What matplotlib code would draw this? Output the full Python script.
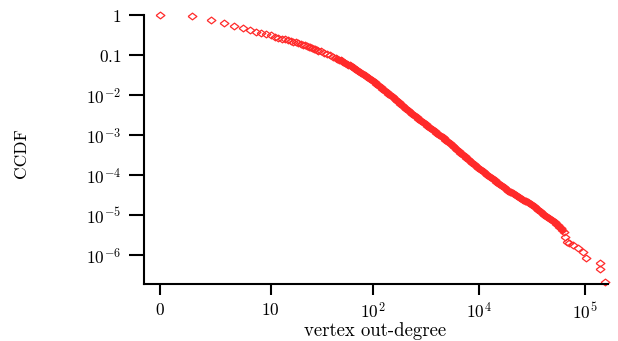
import numpy as np
import matplotlib
matplotlib.use("Agg")
import matplotlib.pyplot as plt
from matplotlib.ticker import FixedLocator, NullLocator

plt.rcParams['font.family'] = 'serif'
plt.rcParams['font.serif'] = ['cmr10', 'DejaVu Serif']
plt.rcParams['mathtext.fontset'] = 'cm'
plt.rcParams['axes.formatter.use_mathtext'] = True

# vertex out-degree and log10 of the CCDF
degree = [0, 1, 2, 3, 4, 5, 6, 7, 8, 9, 10, 11, 12, 13, 14, 15, 16, 17, 18, 19,
          20, 21, 22, 23, 24, 25, 26, 27, 28, 29, 30,
          32, 34, 36, 39, 41, 44, 47, 51, 54, 58, 62, 66, 70, 75, 80, 86, 91, 98,
          104, 111, 119, 127, 136, 145, 155, 165, 176, 188, 201, 214, 229, 244,
          261, 278, 297, 317, 338, 361, 385, 411, 439, 469, 500, 534, 570, 608,
          649, 692, 739, 789, 842, 898, 959, 1023, 1092, 1165, 1244, 1327, 1417,
          1511, 1613, 1721, 1837, 1961, 2093, 2233, 2383, 2543, 2714, 2896, 3091,
          3298, 3520, 3756, 4008, 4277, 4564, 4871, 5198, 5546, 5919, 6317,
          6456, 6697, 7117, 7727, 8611, 9474, 10109, 13781, 13930, 15360]
ccdf_exp = [0, -0.015, -0.118, -0.2, -0.268, -0.318, -0.362, -0.405, -0.443, -0.475,
            -0.503, -0.53, -0.555, -0.58, -0.603, -0.623, -0.64, -0.66, -0.678, -0.698,
            -0.715, -0.733, -0.75, -0.768, -0.785, -0.80, -0.818, -0.834, -0.85, -0.865,
            -0.88,
            -0.9025, -0.9325, -0.9675, -1.0025, -1.0375, -1.0725, -1.105, -1.145,
            -1.1875, -1.23, -1.27, -1.3125, -1.355, -1.4075, -1.46, -1.515, -1.5675,
            -1.62, -1.6775, -1.74, -1.8, -1.8625, -1.924, -1.9875, -2.05, -2.115,
            -2.1775, -2.24, -2.305, -2.3675, -2.4325, -2.4925, -2.5525, -2.61,
            -2.6675, -2.7275, -2.785, -2.845, -2.9025, -2.96, -3.02, -3.0775,
            -3.1375, -3.2025, -3.2675, -3.3325, -3.3975, -3.465, -3.5275, -3.59,
            -3.655, -3.7175, -3.78, -3.8425, -3.9, -3.9575, -4.0125, -4.07, -4.1275,
            -4.185, -4.2425, -4.2975, -4.355, -4.405, -4.45, -4.495, -4.54, -4.585,
            -4.63, -4.675, -4.72, -4.77, -4.8325, -4.8975, -4.96, -5.015, -5.0675,
            -5.1225, -5.175, -5.2425, -5.3275, -5.415,
            -5.53, -5.66, -5.6925, -5.74, -5.825, -5.91, -6.075, -6.185, -6.35, -6.66]

# more reads inside the dense band, where the markers merge into a solid strip
band_degree = [45, 49, 52, 56, 60, 64, 68, 72, 77, 83, 88,
               94, 101, 107, 115, 123, 131, 140, 150, 160, 170, 182, 194, 207,
               221, 236, 252, 269, 287, 307, 327, 349, 373, 398, 425, 454, 484,
               517, 552, 589, 628, 670, 715, 764, 815, 870, 928, 990, 1057, 1128,
               1204, 1285, 1371, 1463, 1561, 1666, 1778, 1898, 2026, 2162, 2307,
               2462, 2627, 2804, 2992, 3193, 3407, 3636, 3880, 4140, 4418, 4715,
               5032, 5369, 5730, 6115]
band_exp = [-1.089, -1.125, -1.166,
            -1.209, -1.25, -1.291, -1.334, -1.381, -1.434, -1.4875, -1.541, -1.594,
            -1.649, -1.709, -1.77, -1.831, -1.893, -1.956, -2.019, -2.0825, -2.146,
            -2.209, -2.2725, -2.336, -2.4, -2.4625, -2.5225, -2.581, -2.639,
            -2.6975, -2.756, -2.815, -2.874, -2.931, -2.99, -3.049, -3.1075, -3.17,
            -3.235, -3.3, -3.365, -3.431, -3.496, -3.559, -3.6225, -3.686, -3.749,
            -3.811, -3.871, -3.929, -3.985, -4.041, -4.099, -4.156, -4.214, -4.27,
            -4.326, -4.38, -4.4275, -4.4725, -4.5175, -4.5625, -4.6075, -4.6525,
            -4.6975, -4.745, -4.801, -4.865, -4.929, -4.9875, -5.041, -5.095,
            -5.149, -5.209, -5.285, -5.371]

xtick_vals = [0, 10, 100, 1000, 10000]
xtick_labels = ['$0$', '$10$', '$10^2$', '$10^4$', '$10^5$']
ytick_vals = [1, 1e-1, 1e-2, 1e-3, 1e-4, 1e-5, 1e-6]
ytick_labels = ['$1$', '$0.1$', '$10^{-2}$', '$10^{-3}$', '$10^{-4}$', '$10^{-5}$', '$10^{-6}$']

ccdf = 10.0 ** np.array(ccdf_exp)
band_ccdf = 10.0 ** np.array(band_exp)


def fwd(v):
    with np.errstate(invalid='ignore', divide='ignore'):
        return np.log10(np.asarray(v, dtype=float) + 1)


def inv(v):
    return 10.0 ** np.asarray(v, dtype=float) - 1


fig = plt.figure(figsize=(6.18, 3.41), dpi=100)
ax = fig.add_axes([0.2338, 0.1686, 0.75, 0.7865])

red = '#ff2a2a'
diamond = [(-1.3, 0), (0, 1), (1.3, 0), (0, -1), (-1.3, 0)]
# overplotted strip: filled so it reads as the solid band of thousands of points
ax.plot(band_degree, band_ccdf, ls='none', marker=diamond, ms=6.3, mfc=red,
        mec=red, mew=0.9)
ax.plot(degree, ccdf, ls='none', marker=diamond, ms=6.3, mfc='none',
        mec=red, mew=0.9, clip_on=False)

ax.set_xscale('function', functions=(fwd, inv))
ax.set_yscale('log')
ax.set_xlim(-0.285, 16400)
ax.set_ylim(10 ** -6.705, 1)

ax.xaxis.set_major_locator(FixedLocator(xtick_vals))
ax.set_xticklabels(xtick_labels)
ax.xaxis.set_minor_locator(NullLocator())
ax.yaxis.set_major_locator(FixedLocator(ytick_vals))
ax.set_yticklabels(ytick_labels)
ax.yaxis.set_minor_locator(NullLocator())

for s in ['top', 'right']:
    ax.spines[s].set_visible(False)
for s in ['left', 'bottom']:
    ax.spines[s].set_linewidth(1.5)

ax.tick_params(axis='both', width=1.5, labelsize=12.5, direction='out')
ax.tick_params(axis='y', length=10.5, pad=6)
ax.tick_params(axis='x', length=8, pad=5)

ax.set_xlabel('vertex out-degree', fontsize=13.5, va='center')
ax.xaxis.set_label_coords(0.4964, -0.178)
ax.set_ylabel('CCDF', fontsize=12.5, va='center')
ax.yaxis.set_label_coords(-0.266, 0.485)

fig.savefig('out.png', dpi=100)
